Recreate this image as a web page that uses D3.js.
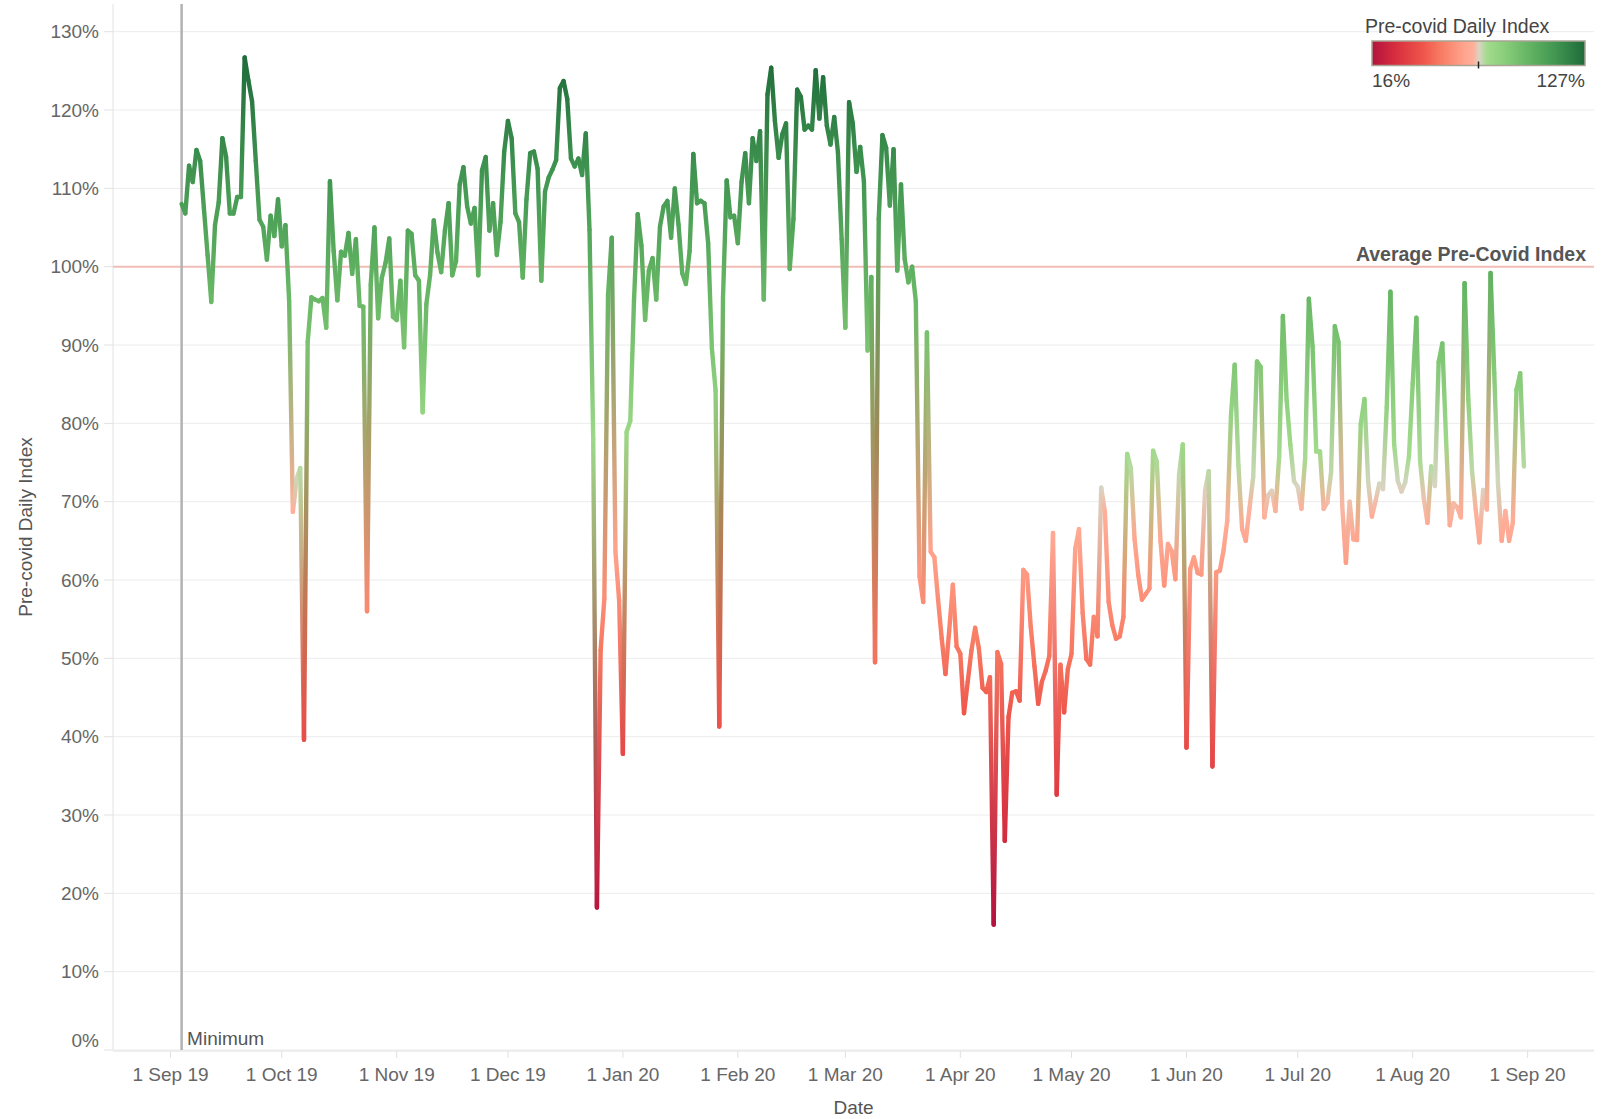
<!DOCTYPE html>
<html><head><meta charset="utf-8">
<script src="https://cdn.jsdelivr.net/npm/d3@7"></script>
<style>
body{margin:0;background:#fff;}
text{font-family:"Liberation Sans",Arial,sans-serif;}
</style>
</head><body>
<svg id="chart" width="1609" height="1119"></svg>
<script>
// ---------- DATA ----------
const startDate = "2019-09-04";
const indexValues = [
  108.0,106.8,112.9,110.8,114.9,113.5,107.5,
  101.5,95.5,105.3,108.2,116.4,114.0,106.8,106.8,108.9,108.9,
  126.7,123.8,121.1,113.5,106.0,105.1,100.9,106.5,103.9,108.6,
  102.6,105.3,95.6,68.7,72.9,74.3,39.6,90.4,96.1,95.8,
  95.6,96.0,92.2,110.9,102.0,95.7,101.9,101.4,104.3,99.1,
  103.5,95.0,94.9,56.0,97.7,105.0,93.4,98.6,100.5,103.6,
  93.6,93.2,98.2,89.7,104.6,104.2,98.9,98.2,81.4,95.2,
  98.9,105.9,101.8,99.3,104.6,108.1,98.9,100.7,110.5,112.7,
  107.7,105.5,107.5,98.9,112.3,114.0,104.6,108.1,101.5,105.7,
  114.7,118.6,116.4,106.8,105.7,98.6,108.6,114.5,114.7,112.5,
  98.2,109.6,111.4,112.4,113.6,122.8,123.7,121.4,113.8,112.8,
  113.8,111.7,117.0,104.7,78.0,18.2,51.0,57.6,96.4,103.7,
  63.6,57.3,37.8,78.9,80.3,95.7,106.7,102.7,93.2,99.5,
  101.1,95.8,105.1,107.7,108.4,103.7,110.0,105.4,99.2,97.8,
  102.0,114.4,108.1,108.4,108.1,103.0,89.6,84.2,41.3,96.0,
  111.0,106.3,106.5,103.0,110.8,114.5,108.1,116.4,113.5,117.3,
  95.8,122.0,125.4,118.6,113.9,116.9,118.3,99.7,106.1,122.6,
  121.7,117.5,118.0,117.5,125.1,118.9,124.2,118.0,115.6,119.1,
  114.6,103.5,92.2,121.0,118.3,112.1,115.3,110.9,89.3,98.7,
  49.5,106.1,116.8,115.2,107.8,115.0,99.5,110.5,101.0,98.0,
  100.0,95.6,60.5,57.2,91.6,63.6,62.9,57.5,52.5,48.0,
  53.5,59.4,51.5,50.6,43.0,47.0,51.0,53.9,51.3,46.2,
  45.7,47.6,16.0,50.8,49.3,26.7,42.5,45.6,45.8,44.6,
  61.3,60.7,54.0,49.0,44.2,47.0,48.4,50.3,66.0,32.6,
  49.2,43.1,48.6,50.6,64.0,66.5,55.8,49.9,49.2,55.3,
  52.8,71.8,68.7,57.2,54.2,52.5,52.8,55.3,76.1,74.3,
  65.2,60.6,57.5,58.2,58.9,76.5,75.1,64.9,59.3,64.6,
  63.7,60.1,73.5,77.3,38.6,61.4,62.9,60.9,60.7,71.3,
  73.9,36.2,61.0,61.2,63.8,67.6,81.0,87.5,74.6,66.5,
  65.0,69.2,73.2,87.9,87.2,68.0,70.8,71.4,68.8,75.8,
  93.7,83.0,77.3,72.6,71.9,69.1,75.5,95.9,89.8,76.4,
  76.4,69.1,69.9,73.8,92.4,90.4,69.5,62.2,70.0,65.2,
  65.1,79.9,83.1,72.5,68.1,70.1,72.3,71.6,82.0,96.8,
  77.3,72.6,71.3,72.5,75.8,85.0,93.5,75.1,70.4,67.3,
  74.5,72.0,87.8,90.2,78.0,67.0,69.8,69.3,68.0,97.9,
  83.0,74.0,69.0,64.8,71.5,69.0,99.2,86.4,72.4,65.0,
  68.8,65.0,67.3,84.3,86.4,74.5
];
const yTickValues = [0,10,20,30,40,50,60,70,80,90,100,110,120,130];
const xTickStart = "2019-09-01";
const xTickEnd = "2020-09-01";
const referenceValue = 100;
const referenceLabel = "Average Pre-Covid Index";
const legendTitle = "Pre-covid Daily Index";
const legendMin = 16, legendMax = 127;
const colorStopPositions = [0.00, 0.117, 0.242, 0.32, 0.43, 0.477, 0.503, 0.54, 0.617, 0.742, 0.867, 1.00];
const colorStopColors = ["#b3123d","#d9303f","#ef564b","#f87a62","#ffa38c","#ffb09b","#d9d5c4","#a2db8c","#8bcf7b","#62b362","#3f9450","#1e6b3a"];
const xTitle = "Date", yTitle = "Pre-covid Daily Index", minLabel = "Minimum";

// ---------- SETUP ----------
const svg = d3.select("#chart");
const plot = {left: 113, right: 1594, top: 4, bottom: 1050};
const parse = d3.utcParse("%Y-%m-%d");
const t0 = parse(xTickStart), t1 = parse(xTickEnd);
const x = d3.scaleUtc().domain([t0, t1]).range([170.5, 170.5 + 366 * 3.708]);
const y = d3.scaleLinear().domain([0, 130]).range([plot.bottom, 31.7]);

const data = indexValues.map((v, i) => ({date: d3.utcDay.offset(parse(startDate), i), value: v}));

const colorT = d3.scaleLinear().domain(colorStopPositions).range(colorStopColors).interpolate(d3.interpolateRgb);
const color = v => colorT((v - legendMin) / (legendMax - legendMin));

const defs = svg.append("defs");

// gridlines
svg.append("g").selectAll("line").data(yTickValues).join("line")
  .attr("x1", plot.left).attr("x2", plot.right)
  .attr("y1", d => y(d)).attr("y2", d => y(d))
  .attr("stroke", "#ececec").attr("stroke-width", 1);

// left axis line & ticks
svg.append("line").attr("x1", plot.left).attr("x2", plot.left).attr("y1", plot.top).attr("y2", plot.bottom)
  .attr("stroke", "#e2e2e2").attr("stroke-width", 1);
svg.append("g").selectAll("line").data(yTickValues).join("line")
  .attr("x1", plot.left - 9).attr("x2", plot.left)
  .attr("y1", d => y(d)).attr("y2", d => y(d))
  .attr("stroke", "#e2e2e2");
svg.append("g").selectAll("text").data(yTickValues).join("text")
  .attr("x", 99).attr("y", d => y(d) + (d === 0 ? -9.5 : 0))
  .attr("dy", "0.35em").attr("text-anchor", "end")
  .attr("font-size", 19).attr("fill", "#666")
  .text(d => d + "%");

// bottom axis
svg.append("line").attr("x1", plot.left).attr("x2", plot.right).attr("y1", plot.bottom + 1).attr("y2", plot.bottom + 1)
  .attr("stroke", "#e0e0e0");
const xTicks = d3.utcMonth.range(t0, d3.utcDay.offset(t1, 1));
svg.append("g").selectAll("line").data(xTicks).join("line")
  .attr("x1", d => x(d)).attr("x2", d => x(d))
  .attr("y1", plot.bottom + 1).attr("y2", plot.bottom + 8)
  .attr("stroke", "#e0e0e0");
const fmt = d3.utcFormat("%-d %b %y");
svg.append("g").selectAll("text").data(xTicks).join("text")
  .attr("x", d => x(d)).attr("y", 1081).attr("text-anchor", "middle")
  .attr("font-size", 19).attr("fill", "#666")
  .text(d => fmt(d));

// axis titles
svg.append("text").attr("x", (plot.left + plot.right) / 2).attr("y", 1114).attr("text-anchor", "middle")
  .attr("font-size", 19).attr("fill", "#555").text(xTitle);
svg.append("text").attr("transform", `translate(32,${(plot.top + plot.bottom) / 2}) rotate(-90)`)
  .attr("text-anchor", "middle").attr("font-size", 19).attr("fill", "#555").text(yTitle);

// reference line 100%
svg.append("line").attr("x1", plot.left).attr("x2", plot.right)
  .attr("y1", y(referenceValue)).attr("y2", y(referenceValue))
  .attr("stroke", "#f2bcb7").attr("stroke-width", 2);
svg.append("text").attr("x", 1586).attr("y", y(referenceValue) - 6).attr("text-anchor", "end")
  .attr("font-size", 19.5).attr("font-weight", "bold").attr("fill", "#555").text(referenceLabel);

// minimum line
const minDate = d3.min(data, d => d.date);
svg.append("line").attr("x1", x(minDate)).attr("x2", x(minDate)).attr("y1", plot.top).attr("y2", plot.bottom)
  .attr("stroke", "#b2b2b2").attr("stroke-width", 2.5);
svg.append("text").attr("x", x(minDate) + 5.5).attr("y", 1045).attr("font-size", 19).attr("fill", "#555").text(minLabel);

// line segments with gradients between point colours
const segs = d3.pairs(data);
const gsel = defs.selectAll("linearGradient.seg").data(segs).join("linearGradient")
  .attr("class", "seg").attr("id", (d, i) => "sg" + i)
  .attr("gradientUnits", "userSpaceOnUse")
  .attr("x1", d => x(d[0].date)).attr("y1", d => y(d[0].value))
  .attr("x2", d => x(d[1].date)).attr("y2", d => y(d[1].value));
gsel.append("stop").attr("offset", 0).attr("stop-color", d => color(d[0].value));
gsel.append("stop").attr("offset", 1).attr("stop-color", d => color(d[1].value));

svg.append("g").selectAll("line").data(segs).join("line")
  .attr("x1", d => x(d[0].date)).attr("y1", d => y(d[0].value))
  .attr("x2", d => x(d[1].date)).attr("y2", d => y(d[1].value))
  .attr("stroke", (d, i) => `url(#sg${i})`)
  .attr("stroke-width", 4.4).attr("stroke-linecap", "round");

// legend
const lg = {x: 1372, y: 41, w: 213, h: 24.5};
const legGrad = defs.append("linearGradient").attr("id", "legGrad").attr("x1", 0).attr("x2", 1).attr("y1", 0).attr("y2", 0);
legGrad.selectAll("stop").data(colorStopPositions).join("stop")
  .attr("offset", d => d).attr("stop-color", (d, i) => colorStopColors[i]);
svg.append("text").attr("x", 1365).attr("y", 33).attr("font-size", 19.5).attr("fill", "#444").text(legendTitle);
svg.append("rect").attr("x", lg.x).attr("y", lg.y).attr("width", lg.w).attr("height", lg.h)
  .attr("fill", "url(#legGrad)").attr("stroke", "#a8a394").attr("stroke-width", 1.5);
const legScale = d3.scaleLinear().domain([legendMin, legendMax]).range([lg.x, lg.x + lg.w]);
const mid = (legendMin + legendMax) / 2;
svg.append("line").attr("x1", legScale(mid)).attr("x2", legScale(mid)).attr("y1", lg.y + lg.h - 4).attr("y2", lg.y + lg.h + 3)
  .attr("stroke", "#222").attr("stroke-width", 1.5);
svg.append("text").attr("x", lg.x).attr("y", 86.5).attr("font-size", 19).attr("fill", "#444").text(legendMin + "%");
svg.append("text").attr("x", lg.x + lg.w).attr("y", 86.5).attr("text-anchor", "end").attr("font-size", 19).attr("fill", "#444").text(legendMax + "%");
</script>
</body></html>
